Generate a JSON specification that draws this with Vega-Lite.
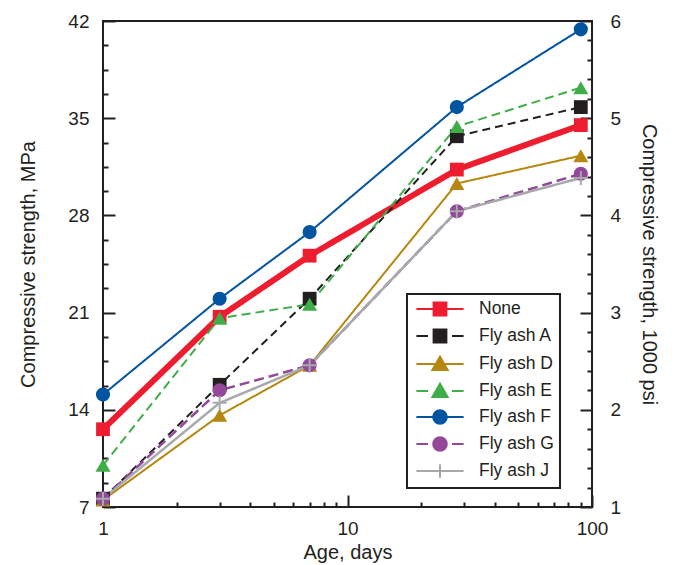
{
  "$schema": "https://vega.github.io/schema/vega-lite/v6.json",
  "width": 489,
  "height": 486,
  "autosize": "none",
  "padding": {"left": 103, "top": 21, "right": 83, "bottom": 58},
  "background": "white",
  "config": {
    "font": "Liberation Sans",
    "view": {"stroke": "#231f20", "strokeWidth": 2},
    "axis": {
      "grid": false,
      "domain": false,
      "tickColor": "#231f20",
      "tickWidth": 2,
      "labelColor": "#231f20",
      "titleColor": "#231f20",
      "labelFont": "Liberation Sans",
      "titleFont": "Liberation Sans",
      "labelFontSize": 19,
      "titleFontSize": 20,
      "titleFontWeight": "normal"
    },
    "legend": {
      "orient": "none",
      "legendX": 304,
      "legendY": 273,
      "padding": 6,
      "rowPadding": 5,
      "symbolSize": 256,
      "symbolStrokeWidth": 2,
      "symbolOffset": 18,
      "labelOffset": 30,
      "labelFont": "Liberation Sans",
      "labelFontSize": 17.5,
      "labelColor": "#231f20",
      "strokeColor": "#231f20",
      "strokeWidth": 2,
      "fillColor": "white",
      "title": null
    }
  },
  "data": {
    "values": [
      {"series": "None", "day": 1, "mpa": 12.6},
      {"series": "None", "day": 3, "mpa": 20.7},
      {"series": "None", "day": 7, "mpa": 25.1},
      {"series": "None", "day": 28, "mpa": 31.3},
      {"series": "None", "day": 90, "mpa": 34.5},
      {"series": "Fly ash A", "day": 1, "mpa": 7.6},
      {"series": "Fly ash A", "day": 3, "mpa": 15.8},
      {"series": "Fly ash A", "day": 7, "mpa": 22.0},
      {"series": "Fly ash A", "day": 28, "mpa": 33.7},
      {"series": "Fly ash A", "day": 90, "mpa": 35.8},
      {"series": "Fly ash D", "day": 1, "mpa": 7.5},
      {"series": "Fly ash D", "day": 3, "mpa": 13.6},
      {"series": "Fly ash D", "day": 7, "mpa": 17.2},
      {"series": "Fly ash D", "day": 28, "mpa": 30.3},
      {"series": "Fly ash D", "day": 90, "mpa": 32.3},
      {"series": "Fly ash E", "day": 1, "mpa": 10.0},
      {"series": "Fly ash E", "day": 3, "mpa": 20.6},
      {"series": "Fly ash E", "day": 7, "mpa": 21.6},
      {"series": "Fly ash E", "day": 28, "mpa": 34.4},
      {"series": "Fly ash E", "day": 90, "mpa": 37.2},
      {"series": "Fly ash F", "day": 1, "mpa": 15.1},
      {"series": "Fly ash F", "day": 3, "mpa": 22.0},
      {"series": "Fly ash F", "day": 7, "mpa": 26.8},
      {"series": "Fly ash F", "day": 28, "mpa": 35.8},
      {"series": "Fly ash F", "day": 90, "mpa": 41.4},
      {"series": "Fly ash G", "day": 1, "mpa": 7.6},
      {"series": "Fly ash G", "day": 3, "mpa": 15.4},
      {"series": "Fly ash G", "day": 7, "mpa": 17.2},
      {"series": "Fly ash G", "day": 28, "mpa": 28.3},
      {"series": "Fly ash G", "day": 90, "mpa": 31.0},
      {"series": "Fly ash J", "day": 1, "mpa": 7.6},
      {"series": "Fly ash J", "day": 3, "mpa": 14.5},
      {"series": "Fly ash J", "day": 7, "mpa": 17.2},
      {"series": "Fly ash J", "day": 28, "mpa": 28.3},
      {"series": "Fly ash J", "day": 90, "mpa": 30.7}
    ]
  },
  "layer": [
    {
      "mark": {"type": "line", "strokeJoin": "miter", "strokeCap": "butt"},
      "encoding": {
        "x": {
          "field": "day", "type": "quantitative",
          "scale": {"type": "log", "domain": [1, 100], "nice": false},
          "axis": {"orient": "bottom", "values": [1, 10, 100], "format": "d", "tickSize": -12, "labelPadding": 24, "labelFlush": false, "title": "Age, days", "titlePadding": 4}
        },
        "y": {
          "field": "mpa", "type": "quantitative",
          "scale": {"domain": [7, 42], "nice": false, "zero": false},
          "axis": {"orient": "left", "values": [7, 14, 21, 28, 35, 42], "tickSize": -12, "labelPadding": 26, "labelFlush": false, "title": "Compressive strength, MPa", "titlePadding": 29}
        },
        "color": {
          "field": "series", "type": "nominal",
          "scale": {"range": ["#231f20", "#b5870f", "#3fae49", "#0054a0", "#93489a", "#a7a9ac", "#ed1c2e"]},
          "legend": null
        },
        "strokeDash": {
          "field": "series", "type": "nominal",
          "scale": {"range": [[8, 5], [1, 0], [9, 5], [1, 0], [10, 5], [1, 0], [1, 0]]},
          "legend": null
        },
        "strokeWidth": {
          "field": "series", "type": "nominal",
          "scale": {"type": "ordinal", "range": [2, 2, 2, 2, 2.5, 2.5, 6]},
          "legend": null
        }
      }
    },
    {
      "transform": [{"filter": "datum.series == 'None' || datum.series == 'Fly ash A'"}],
      "mark": {"type": "point", "shape": "square", "filled": true, "opacity": 1, "size": 190},
      "encoding": {
        "x": {"field": "day", "type": "quantitative",
              "axis": {"orient": "top", "offset": -486, "values": [2, 3, 4, 5, 6, 7, 8, 9, 20, 30, 40, 50, 60, 70, 80, 90], "tickSize": 5, "labels": false, "title": null}},
        "y": {"field": "mpa", "type": "quantitative", "scale": {"domain": [7, 42], "nice": false, "zero": false},
              "axis": {"orient": "right", "offset": -489, "values": [8.75, 10.5, 12.25, 15.75, 17.5, 19.25, 22.75, 24.5, 26.25, 29.75, 31.5, 33.25, 36.75, 38.5, 40.25], "tickSize": 5, "labels": false, "title": null}},
        "color": {"field": "series", "type": "nominal", "legend": null}
      }
    },
    {
      "transform": [{"filter": "datum.series == 'Fly ash D' || datum.series == 'Fly ash E'"}],
      "mark": {"type": "point", "shape": "triangle-up", "filled": true, "opacity": 1, "size": 225},
      "encoding": {
        "x": {"field": "day", "type": "quantitative", "axis": null},
        "y": {"field": "mpa", "type": "quantitative", "scale": {"domain": [7, 42], "nice": false, "zero": false}, "axis": null},
        "color": {"field": "series", "type": "nominal", "legend": null}
      }
    },
    {
      "transform": [{"filter": "datum.series == 'Fly ash F' || datum.series == 'Fly ash G'"}],
      "mark": {"type": "point", "shape": "circle", "filled": true, "opacity": 1, "size": 200},
      "encoding": {
        "x": {"field": "day", "type": "quantitative", "axis": null},
        "y": {"field": "mpa", "type": "quantitative", "scale": {"domain": [7, 42], "nice": false, "zero": false}, "axis": null},
        "color": {"field": "series", "type": "nominal", "legend": null}
      }
    },
    {
      "transform": [{"filter": "datum.series == 'Fly ash J'"}],
      "mark": {"type": "point", "shape": "M-1,0H1M0,-1V1", "filled": false, "opacity": 1, "strokeWidth": 2, "size": 196, "color": "#a7a9ac"},
      "encoding": {
        "x": {"field": "day", "type": "quantitative", "axis": null},
        "y": {"field": "mpa", "type": "quantitative", "scale": {"domain": [7, 42], "nice": false, "zero": false}, "axis": null}
      }
    },
    {
      "transform": [{"filter": "datum.mpa > 1000"}],
      "mark": {"type": "point", "filled": true, "opacity": 1, "strokeWidth": 2},
      "encoding": {
        "x": {"field": "day", "type": "quantitative", "axis": null},
        "y": {
          "field": "mpa", "type": "quantitative",
          "scale": {"domain": [1, 6], "nice": false, "zero": false},
          "axis": {"orient": "right", "values": [1, 2, 3, 4, 5, 6], "format": "d", "tickSize": -12, "labelPadding": 30, "labelFlush": false, "title": "Compressive strength, 1000 psi", "titlePadding": 18}
        },
        "shape": {
          "field": "series", "type": "nominal",
          "scale": {"domain": ["None", "Fly ash A", "Fly ash D", "Fly ash E", "Fly ash F", "Fly ash G", "Fly ash J"],
                    "range": [
                      "M-2.95,0H2.95M-0.8,-0.8H0.8V0.8H-0.8Z",
                      "M-2.95,0H-1.5M1.5,0H2.95M-0.8,-0.8H0.8V0.8H-0.8Z",
                      "M-2.95,0H2.95M0,-0.9L0.95,0.75L-0.95,0.75Z",
                      "M-2.95,0H-1.5M1.5,0H2.95M0,-0.9L0.95,0.75L-0.95,0.75Z",
                      "M-2.95,0H2.95M-0.85,0A0.85,0.85 0 1,0 0.85,0A0.85,0.85 0 1,0 -0.85,0Z",
                      "M-2.95,0H-1.5M1.5,0H2.95M-0.85,0A0.85,0.85 0 1,0 0.85,0A0.85,0.85 0 1,0 -0.85,0Z",
                      "M-2.95,0H2.95M0,-0.85V0.85"
                    ]}
        },
        "fill": {"field": "series", "type": "nominal", "scale": {"domain": ["None", "Fly ash A", "Fly ash D", "Fly ash E", "Fly ash F", "Fly ash G", "Fly ash J"], "range": ["#ed1c2e", "#231f20", "#b5870f", "#3fae49", "#0054a0", "#93489a", "#a7a9ac"]}},
        "stroke": {"field": "series", "type": "nominal", "scale": {"domain": ["None", "Fly ash A", "Fly ash D", "Fly ash E", "Fly ash F", "Fly ash G", "Fly ash J"], "range": ["#ed1c2e", "#231f20", "#b5870f", "#3fae49", "#0054a0", "#93489a", "#a7a9ac"]}}
      }
    },
    {
      "transform": [{"filter": "datum.mpa > 1000"}],
      "mark": {"type": "point", "opacity": 1},
      "encoding": {
        "x": {"field": "day", "type": "quantitative", "axis": null},
        "y": {
          "field": "mpa", "type": "quantitative",
          "scale": {"domain": [1, 6], "nice": false, "zero": false},
          "axis": {"orient": "left", "offset": -489, "values": [1.2, 1.4, 1.6, 1.8, 2.2, 2.4, 2.6, 2.8, 3.2, 3.4, 3.6, 3.8, 4.2, 4.4, 4.6, 4.8, 5.2, 5.4, 5.6, 5.8], "tickSize": 5, "labels": false, "title": null}
        }
      }
    }
  ],
  "resolve": {
    "scale": {"y": "independent"},
    "axis": {"x": "independent", "y": "independent"}
  }
}
